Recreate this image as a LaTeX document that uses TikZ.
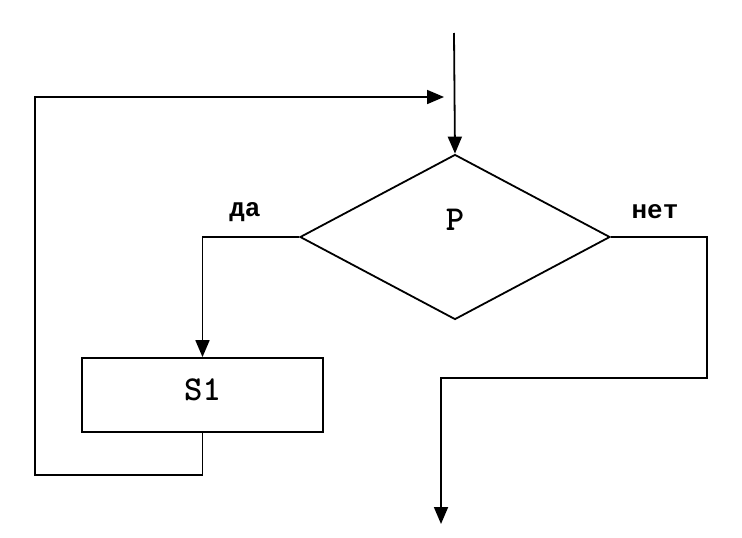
\documentclass[tikz,border=0pt]{standalone}
\usepackage{fontspec}
\newfontfamily\labelfont{Liberation Mono}
\usetikzlibrary{shapes.geometric, arrows.meta, positioning}

\begin{document}
\begin{tikzpicture}[
        x=1pt, y=-1pt,
        font=\ttfamily\bfseries\fontsize{35}{40}\selectfont,
        line width=1.8pt,
        cond_node/.style={
            diamond,
            draw,
            inner sep=0pt,
            text height=24pt,
            text depth=38pt,
            minimum width=310pt,
            minimum height=165pt
        },
        proc_node/.style={
            rectangle,
            draw,
            text height=30pt,
            text depth=20pt,
            minimum width=241pt,
            minimum height=74pt
        },
        lbl/.style={
            font=\labelfont\bfseries\fontsize{26}{30}\selectfont
        },
        arrow/.style={
            -{Triangle[length=17pt, width=14pt]}
        }
    ]
    \useasboundingbox (0,0) rectangle (742,538);

    % Condition
    \node[cond_node] (cond) at (455,237) {P};

    % Body of the loop
    \node[proc_node] (body) at (202.5,395) {S1};

    % Free ends
    \coordinate (entry) at (454,33);
    \coordinate (back) at (35,475);
    \coordinate (join) at (444,97);
    \coordinate (turn) at (707,378);
    \coordinate (exit) at (441,524);

    % Labels
    \node[lbl] (yes) at (245,212) {да};
    \node[lbl] (no) at (655,212) {нет};

    % Arrows
    \draw[arrow] (entry) -- (cond.north);
    \draw[arrow] (cond.west) -| (body.north);
    \draw[arrow] (body.south) |- (back) |- (join);
    \draw[arrow] (cond.east) -| (turn) -| (exit);

\end{tikzpicture}
\end{document}
